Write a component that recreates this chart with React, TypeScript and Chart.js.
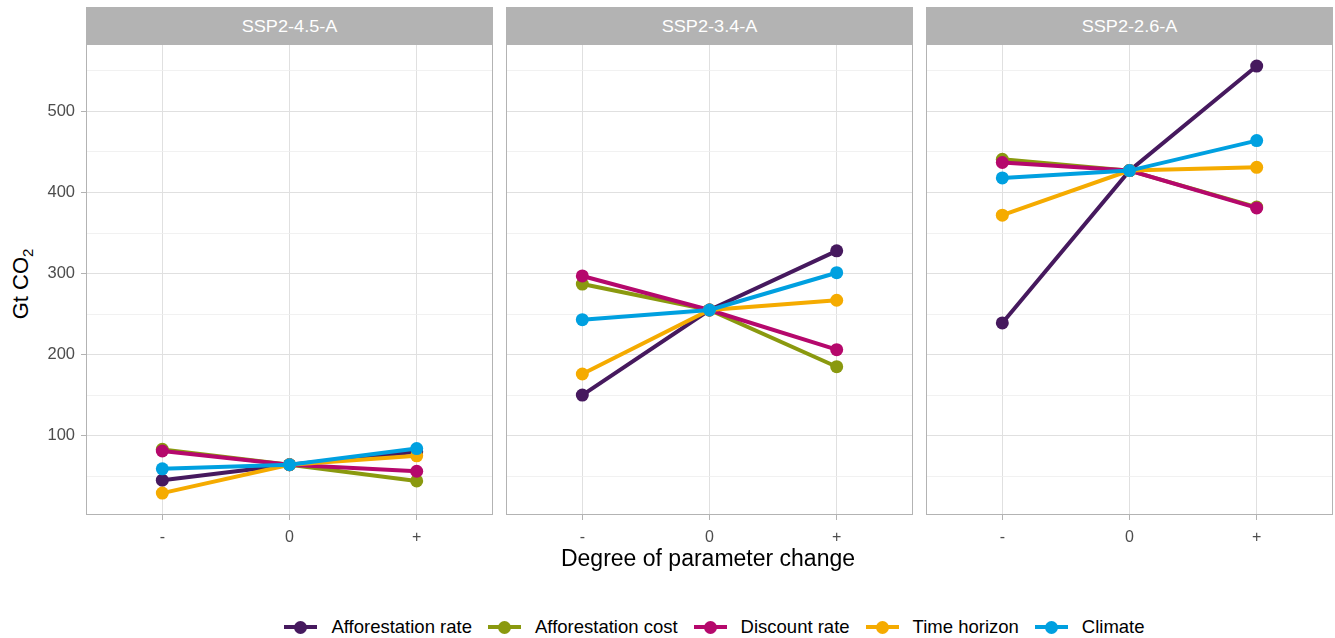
import React, { useEffect, useRef } from "react";
import { Chart, registerables } from "chart.js";

Chart.register(...registerables);

const scenarios = ["SSP2-4.5-A", "SSP2-3.4-A", "SSP2-2.6-A"];
const levels = ["-", "0", "+"];
const seriesNames = ["Afforestation rate", "Afforestation cost", "Discount rate", "Time horizon", "Climate"];
const seriesColors = ["#46195e", "#8a990f", "#b5086c", "#f5ab00", "#00a0e0"];

// values per scenario: [-, 0, +]
const afforestationRate = [[45, 64, 80], [150, 255, 328], [239, 427, 556]];
const afforestationCost = [[83, 64, 44], [287, 255, 185], [441, 427, 382]];
const discountRate = [[81, 64, 56], [297, 255, 206], [437, 427, 381]];
const timeHorizon = [[29, 64, 75], [176, 255, 267], [372, 427, 431]];
const climate = [[59, 64, 84], [243, 255, 301], [418, 427, 464]];

const seriesValues = [afforestationRate, afforestationCost, discountRate, timeHorizon, climate];
const yTicks = [50, 100, 150, 200, 250, 300, 350, 400, 450, 500, 550];

const FONT = "'Liberation Sans', Arial, Helvetica, sans-serif";
const panelLefts = [86, 506, 926];
const PANEL_W = 407;
const PANEL_TOP = 45;
const PANEL_BOTTOM = 515;
const X_AXIS_H = 42;
const Y_AXIS_W = 50;

function Panel({ index }: { index: number }) {
  const ref = useRef<HTMLCanvasElement | null>(null);
  const first = index === 0;
  useEffect(() => {
    if (!ref.current) return;
    const datasets = seriesNames.map((name, si) => ({
      label: name,
      data: levels.map((_, li) => ({ x: li, y: seriesValues[si][index][li] })),
      borderColor: seriesColors[si],
      backgroundColor: seriesColors[si],
      pointBackgroundColor: seriesColors[si],
      pointBorderWidth: 0,
      pointRadius: 6.5,
      borderWidth: 4,
      order: seriesNames.length - 1 - si,
      tension: 0,
    }));
    const chart = new Chart(ref.current, {
      type: "line",
      data: { datasets },
      options: {
        animation: false,
        responsive: false,
        maintainAspectRatio: false,
        events: [],
        layout: { padding: 0, autoPadding: false },
        plugins: { legend: { display: false }, tooltip: { enabled: false } },
        scales: {
          x: {
            type: "linear",
            min: -0.6,
            max: 2.6,
            afterBuildTicks: (s: any) => {
              s.ticks = levels.map((_, i) => ({ value: i }));
            },
            afterFit: (s: any) => {
              s.height = X_AXIS_H;
              s.paddingLeft = 0;
              s.paddingRight = 0;
            },
            border: { display: false },
            grid: {
              color: "#e0e0e0",
              lineWidth: 1,
              drawTicks: true,
              tickLength: 5,
              tickColor: "#b3b3b3",
            },
            ticks: {
              padding: 8,
              color: "#4d4d4d",
              font: { family: FONT, size: 16 },
              callback: (v: any) => levels[Math.round(Number(v))] ?? "",
              maxRotation: 0,
              autoSkip: false,
            },
          },
          y: {
            type: "linear",
            min: 2,
            max: 582,
            afterBuildTicks: (s: any) => {
              s.ticks = yTicks.map((v) => ({ value: v }));
            },
            afterFit: (s: any) => {
              s.width = first ? Y_AXIS_W : 0;
              s.paddingTop = 0;
              s.paddingBottom = 0;
            },
            border: { display: false },
            grid: {
              color: (c: any) => (c.tick && c.tick.value % 100 === 0 ? "#e0e0e0" : "#eeeeee"),
              lineWidth: (c: any) => (c.tick && c.tick.value % 100 === 0 ? 1 : 0.8),
              drawTicks: first,
              tickLength: 5,
              tickColor: (c: any) => (c.tick && c.tick.value % 100 === 0 ? "#b3b3b3" : "rgba(0,0,0,0)"),
            },
            ticks: {
              display: first,
              padding: 6,
              color: "#4d4d4d",
              font: { family: FONT, size: 16.5 },
              callback: (v: any) => (Number(v) % 100 === 0 ? String(v) : ""),
              autoSkip: false,
            },
          },
        },
      },
    } as any);
    return () => chart.destroy();
  }, [index, first]);

  const canvasLeft = first ? panelLefts[index] - Y_AXIS_W : panelLefts[index];
  const canvasW = first ? PANEL_W + Y_AXIS_W : PANEL_W;
  const canvasH = PANEL_BOTTOM - PANEL_TOP + X_AXIS_H;
  return (
    <>
      <div
        style={{
          position: "absolute",
          left: panelLefts[index],
          top: 7,
          width: PANEL_W,
          height: PANEL_TOP - 7,
          background: "#b3b3b3",
          color: "#ffffff",
          display: "flex",
          alignItems: "center",
          justifyContent: "center",
        }}
      >
        <span style={{ fontSize: 16.5, display: "inline-block", transform: "scaleX(1.1)" }}>{scenarios[index]}</span>
      </div>
      <canvas
        ref={ref}
        width={canvasW}
        height={canvasH}
        style={{ position: "absolute", left: canvasLeft, top: PANEL_TOP, width: canvasW, height: canvasH }}
      />
      <div
        style={{
          position: "absolute",
          left: panelLefts[index],
          top: PANEL_TOP,
          width: PANEL_W,
          height: PANEL_BOTTOM - PANEL_TOP,
          boxSizing: "border-box",
          border: "1px solid #b3b3b3",
          borderTop: "none",
          pointerEvents: "none",
        }}
      />
    </>
  );
}

function LegendItem({ name, color }: { name: string; color: string }) {
  return (
    <div style={{ display: "flex", alignItems: "center", marginRight: 16 }}>
      <div style={{ position: "relative", width: 33, height: 13, marginRight: 14 }}>
        <div style={{ position: "absolute", left: 0, right: 0, top: 4.5, height: 4, background: color }} />
        <div
          style={{
            position: "absolute",
            left: 10,
            top: 0,
            width: 13,
            height: 13,
            borderRadius: 7,
            background: color,
          }}
        />
      </div>
      <span style={{ fontSize: 18.5, color: "#000" }}>{name}</span>
    </div>
  );
}

export default function App() {
  return (
    <div
      style={{
        position: "fixed",
        left: 0,
        top: 0,
        width: 1335,
        height: 638,
        background: "#fff",
        fontFamily: FONT,
        overflow: "hidden",
      }}
    >
      {scenarios.map((_, i) => (
        <Panel key={i} index={i} />
      ))}
      <div
        style={{
          position: "absolute",
          left: 21,
          top: 284,
          transform: "translate(-50%, -50%) rotate(-90deg)",
          whiteSpace: "nowrap",
          fontSize: 22,
          color: "#000",
        }}
      >
        Gt CO<sub style={{ fontSize: 15, verticalAlign: "-5px", lineHeight: 0 }}>2</sub>
      </div>
      <div
        style={{
          position: "absolute",
          left: 708,
          top: 558,
          transform: "translate(-50%, -50%)",
          whiteSpace: "nowrap",
          fontSize: 23,
          color: "#000",
        }}
      >
        Degree of parameter change
      </div>
      <div
        style={{
          position: "absolute",
          left: 0,
          width: 1335,
          top: 617,
          height: 20,
          display: "flex",
          justifyContent: "center",
          alignItems: "center",
          paddingLeft: 110,
          boxSizing: "border-box",
        }}
      >
        {seriesNames.map((n, i) => (
          <LegendItem key={n} name={n} color={seriesColors[i]} />
        ))}
      </div>
    </div>
  );
}
